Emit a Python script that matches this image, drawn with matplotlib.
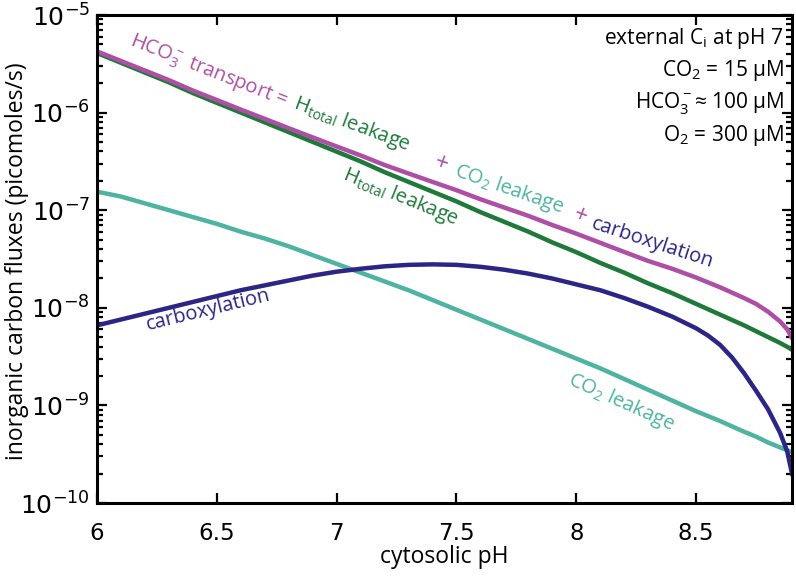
import numpy as np
import matplotlib
matplotlib.use("Agg")
import matplotlib.pyplot as plt
from matplotlib.ticker import LogLocator, NullFormatter

plt.rcParams['font.family'] = ['Open Sans', 'DejaVu Sans']
plt.rcParams['mathtext.fontset'] = 'custom'
plt.rcParams['mathtext.rm'] = 'Open Sans'
plt.rcParams['mathtext.it'] = 'Open Sans:italic'
plt.rcParams['mathtext.bf'] = 'Open Sans:bold'

# cytosolic pH grid
ph = [6.0, 6.1, 6.2, 6.3, 6.4, 6.5, 6.6, 6.7, 6.8, 6.9,
      7.0, 7.1, 7.2, 7.3, 7.4, 7.5, 7.6, 7.7, 7.8, 7.9,
      8.0, 8.1, 8.2, 8.3, 8.4, 8.5, 8.55, 8.6, 8.65, 8.7,
      8.75, 8.8, 8.85, 8.88, 8.9]

# log10 of the fluxes in picomoles/s
log_hco3_transport = [-5.373, -5.471, -5.569, -5.667, -5.774, -5.871, -5.969, -6.064, -6.160, -6.254,
                      -6.347, -6.439, -6.537, -6.624, -6.710, -6.795, -6.888, -6.973, -7.058, -7.152,
                      -7.240, -7.334, -7.428, -7.520, -7.600, -7.690, -7.740, -7.790, -7.845, -7.900,
                      -7.960, -8.040, -8.140, -8.220, -8.310]
log_h_total_leak = [-5.39, -5.49, -5.59, -5.69, -5.80, -5.90, -6.00, -6.10, -6.20, -6.30,
                    -6.40, -6.50, -6.61, -6.71, -6.81, -6.91, -7.02, -7.12, -7.22, -7.33,
                    -7.43, -7.54, -7.64, -7.75, -7.85, -7.96, -8.015, -8.07, -8.125, -8.18,
                    -8.24, -8.30, -8.36, -8.40, -8.43]
log_co2_leak = [-6.81, -6.86, -6.93, -7.00, -7.07, -7.14, -7.22, -7.29, -7.37, -7.46,
                -7.55, -7.64, -7.73, -7.82, -7.92, -8.02, -8.12, -8.22, -8.32, -8.42,
                -8.52, -8.62, -8.73, -8.84, -8.95, -9.06, -9.11, -9.16, -9.215, -9.27,
                -9.32, -9.38, -9.43, -9.46, -9.48]
log_carboxylation = [-8.18, -8.12, -8.06, -8.00, -7.94, -7.88, -7.82, -7.77, -7.72, -7.67,
                     -7.63, -7.60, -7.575, -7.56, -7.555, -7.56, -7.58, -7.61, -7.65, -7.70,
                     -7.76, -7.82, -7.90, -7.99, -8.09, -8.21, -8.285, -8.38, -8.51, -8.67,
                     -8.85, -9.04, -9.28, -9.47, -9.70]

hco3_transport = 10 ** np.array(log_hco3_transport)
h_total_leak = 10 ** np.array(log_h_total_leak)
co2_leak = 10 ** np.array(log_co2_leak)
carboxylation = 10 ** np.array(log_carboxylation)

c_transport = '#ae4fa6'
c_htotal = '#1f7a3a'
c_co2 = '#4fb3a2'
c_carbox = '#2c2585'

fig = plt.figure(figsize=(7.96, 5.85), dpi=100)
ax = fig.add_axes([97 / 796, 1 - 503 / 585, 695 / 796, 488 / 585])

lw = 3.2
ax.plot(ph, co2_leak, color=c_co2, lw=lw)
ax.plot(ph, carboxylation, color=c_carbox, lw=lw)
ax.plot(ph, h_total_leak, color=c_htotal, lw=lw)
ax.plot(ph, hco3_transport, color=c_transport, lw=lw)

ax.set_yscale('log')
ax.set_xlim(6, 8.9)
ax.set_ylim(1e-10, 1e-5)
ax.set_xticks([6, 6.5, 7, 7.5, 8, 8.5])
ax.set_xticklabels(['6', '6.5', '7', '7.5', '8', '8.5'], family='DejaVu Sans')
ax.yaxis.set_major_locator(LogLocator(base=10, numticks=10))
ax.yaxis.set_minor_locator(LogLocator(base=10, subs=np.arange(2, 10), numticks=10))
ax.yaxis.set_minor_formatter(NullFormatter())

ax.tick_params(which='both', direction='in', top=True, right=True, width=1.6)
ax.tick_params(which='major', length=7)
ax.tick_params(which='minor', length=4)
ax.tick_params(axis='x', labelsize=16.5, pad=14)
ax.tick_params(axis='y', labelsize=18, pad=5)
for lab in ax.get_yticklabels():
    lab.set_family('DejaVu Sans')
for s in ax.spines.values():
    s.set_linewidth(2.2)

ax.set_xlabel('cytosolic pH', fontsize=16.5, labelpad=0)
fig.text(17 / 796, 1 - 261 / 585, 'inorganic carbon fluxes (picomoles/s)',
         fontsize=16.5, rotation=90, ha='center', va='center')


def angle_at(xs, ys, xc):
    i = int(np.searchsorted(xs, xc))
    i = min(max(i, 1), len(xs) - 1)
    p0 = ax.transData.transform((xs[i - 1], ys[i - 1]))
    p1 = ax.transData.transform((xs[i], ys[i]))
    return np.degrees(np.arctan2(p1[1] - p0[1], p1[0] - p0[0]))


fs = 14.5
# sum label above the transport curve, pieces coloured per term
pieces = [
    (6.467, 2.61e-6, r'HCO$_3^-$ transport =', c_transport, fs),
    (7.065, 7.6e-7, r'H$_\mathregular{total}$ leakage', c_htotal, fs),
    (7.435, 2.95e-7, '+', c_transport, 17),
    (7.72, 1.63e-7, r'CO$_2$ leakage', c_co2, fs),
    (8.015, 8.6e-8, '+', c_transport, 17),
    (8.317, 4.61e-8, 'carboxylation', c_carbox, fs),
]
for x, y, txt, col, size in pieces:
    ax.text(x, y, txt, color=col, fontsize=size, ha='center', va='center',
            rotation=angle_at(ph, hco3_transport, x), rotation_mode='anchor')

ax.text(7.267, 1.35e-7, r'H$_\mathregular{total}$ leakage', color=c_htotal, fontsize=fs,
        ha='center', va='center', rotation=angle_at(ph, h_total_leak, 7.267),
        rotation_mode='anchor')
ax.text(6.4625, 9.5e-9, 'carboxylation', color=c_carbox, fontsize=fs,
        ha='center', va='center', rotation=angle_at(ph, carboxylation, 6.45),
        rotation_mode='anchor')
ax.text(8.1875, 1.08e-9, r'CO$_2$ leakage', color=c_co2, fontsize=fs,
        ha='center', va='center', rotation=angle_at(ph, co2_leak, 8.19),
        rotation_mode='anchor')

conditions = [r'external C$_\mathregular{i}$ at pH 7',
              r'CO$_2$ = 15 µM',
              r'HCO$_3^-$≈ 100 µM',
              r'O$_2$ = 300 µM']
for k, line in enumerate(conditions):
    ax.text(0.988, 0.952 - k * 0.066, line, transform=ax.transAxes,
            fontsize=15, ha='right', va='center', color='black')

fig.savefig('out.png', dpi=100)
